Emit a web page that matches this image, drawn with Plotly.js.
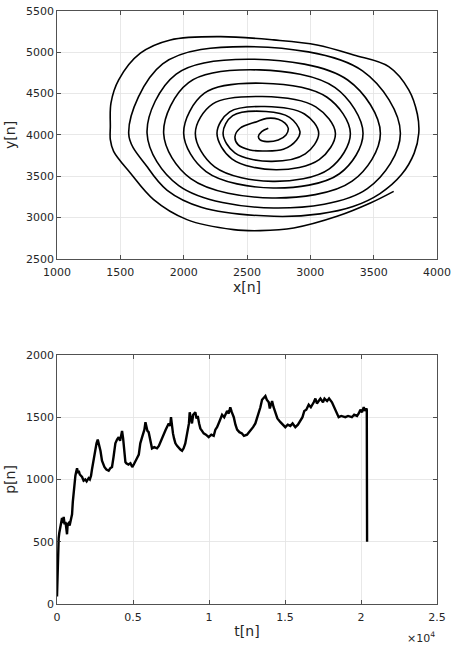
<!DOCTYPE html>
<html>
<head>
<meta charset="utf-8">
<script src="https://cdn.plot.ly/plotly-3.0.1.min.js"></script>
<style>
    html, body { margin: 0; padding: 0; background: #fff; }
    #plot { width: 454px; height: 646px; }
</style>
</head>
<body>
<div id="plot"></div>
<script>
(function () {
    'use strict';

    // spiral path x[n], y[n] (centre outwards)
    var spiralX = [2668, 2616, 2590, 2603, 2656, 2747, 2808, 2826, 2800, 2747, 2656, 2577, 2445, 2405,
        2431, 2524, 2629, 2787, 2892, 2918, 2836, 2650, 2387,
        2311, 2404, 2688, 2960, 3066, 2954, 2640, 2363,
        2263, 2380, 2730, 3070, 3198, 3043, 2620, 2230,
        2092, 2245, 2704, 3150, 3316, 3132, 2620, 2164,
        2000, 2177, 2708, 3230, 3416, 3196, 2600, 2039,
        1842, 2056, 2698, 3330, 3553, 3295, 2560, 1941,
        1711, 1961, 2711, 3450, 3711, 3412, 2500, 1834,
        1566, 1715, 1870, 2139, 2711, 3076, 3337, 3550, 3720, 3820, 3856,
        3845, 3777, 3619, 3342, 3053, 2711, 2290, 1895, 1658, 1487, 1426, 1421,
        1421, 1447, 1579, 1763, 2026, 2395, 2605, 2869, 3211, 3474, 3658];
    var spiralY = [4081, 4040, 3980, 3940, 3919, 3940, 4000, 4081, 4142, 4190, 4200, 4161, 4081, 3980,
        3879, 3818, 3806, 3827, 3940, 4040, 4213, 4284, 4233,
        4020, 3782, 3680, 3770, 4020, 4253, 4344, 4279,
        4020, 3711, 3579, 3700, 4020, 4340, 4465, 4376,
        4020, 3613, 3438, 3590, 4020, 4456, 4626, 4505,
        4020, 3557, 3358, 3530, 4020, 4572, 4787, 4634,
        4020, 3472, 3237, 3440, 4020, 4665, 4916, 4737,
        4020, 3387, 3116, 3350, 4020, 4775, 5069, 4859,
        4020, 3608, 3330, 3126, 3015, 3045, 3133, 3290, 3520, 3780, 4020,
        4250, 4546, 4827, 4968, 5089, 5150, 5190, 5150, 4989, 4666, 4385, 4100,
        3942, 3801, 3539, 3217, 2975, 2854, 2842, 2874, 3015, 3176, 3317];

    // p[n] against t[n]
    var tSeries = [0, 40, 80, 110, 150, 200, 260, 330, 400, 440, 500, 560, 620, 660, 700, 770, 830, 900, 950, 990,
        1040, 1100, 1150, 1210, 1260, 1320, 1380, 1430, 1500, 1560, 1650, 1750, 1860, 1950, 2080, 2160, 2240, 2300,
        2370, 2450, 2520, 2600, 2680, 2740, 2800, 2860, 2960, 3050, 3120, 3250, 3400, 3500, 3620, 3720, 3840, 3950,
        4060, 4150, 4280, 4350, 4430, 4500, 4560, 4700, 4830, 4950, 5050, 5150, 5260, 5380, 5480, 5600, 5750, 5820,
        5880, 5950, 6030, 6150, 6250, 6400, 6580, 6700, 6800, 6900, 7020, 7150, 7350, 7450, 7500, 7560, 7630, 7700,
        7790, 7900, 8010, 8120, 8230, 8330, 8440, 8520, 8600, 8680, 8730, 8800, 8880, 8960, 9100, 9180, 9260, 9350,
        9430, 9540, 9650, 9800, 9980, 10150, 10310, 10420, 10530, 10700, 10860, 11000, 11190, 11300, 11400, 11500,
        11630, 11740, 11850, 12000, 12170, 12300, 12500, 12630, 12770, 12900, 13050, 13150, 13270, 13380, 13490,
        13600, 13710, 13800, 13930, 14000, 14150, 14250, 14370, 14500, 14700, 14850, 15020, 15180, 15350, 15500,
        15680, 15850, 16010, 16150, 16270, 16400, 16560, 16700, 16890, 17000, 17100, 17330, 17500, 17600, 17770,
        17900, 18090, 18200, 18310, 18420, 18530, 18700, 18970, 19150, 19400, 19550, 19740, 19850, 19960, 20070,
        20180, 20260, 20350, 20380, 20400];
    var pSeries = [60, 330, 480, 530, 570, 600, 640, 690, 650, 700, 640, 660, 600, 560, 640, 650, 630, 660, 690, 720,
        820, 910, 960, 1030, 1060, 1090, 1050, 1070, 1040, 1030, 1020, 990, 1000, 985, 1010, 1000, 1030, 1080,
        1130, 1200, 1260, 1290, 1320, 1290, 1250, 1230, 1150, 1110, 1100, 1080, 1070, 1090, 1100, 1180, 1290, 1320,
        1340, 1310, 1390, 1330, 1240, 1140, 1130, 1120, 1130, 1100, 1120, 1140, 1170, 1200, 1290, 1340, 1400, 1460,
        1420, 1390, 1380, 1290, 1250, 1260, 1250, 1270, 1300, 1340, 1370, 1400, 1450, 1430, 1500, 1430, 1370, 1330,
        1290, 1270, 1250, 1240, 1230, 1250, 1290, 1340, 1400, 1450, 1540, 1480, 1450, 1520, 1540, 1490, 1510, 1450,
        1410, 1390, 1370, 1360, 1340, 1360, 1350, 1400, 1420, 1470, 1520, 1500, 1550, 1530, 1580, 1540,
        1500, 1440, 1400, 1380, 1370, 1350, 1360, 1380, 1400, 1420, 1450, 1490, 1530, 1580, 1640,
        1660, 1670, 1640, 1620, 1570, 1630, 1580, 1530, 1490, 1460, 1440, 1420, 1440, 1430, 1450,
        1420, 1440, 1470, 1500, 1550, 1560, 1600, 1580, 1620, 1650, 1610, 1650, 1620, 1650, 1630,
        1650, 1620, 1590, 1550, 1520, 1500, 1510, 1500, 1510, 1500, 1520, 1510, 1530, 1560, 1540,
        1580, 1550, 1570, 1560, 500];

    var xTicks = [1000, 1500, 2000, 2500, 3000, 3500, 4000];
    var yTicks = [2500, 3000, 3500, 4000, 4500, 5000, 5500];
    var tTicks = [0, 5000, 10000, 15000, 20000, 25000];
    var tTickText = ['0', '0.5', '1', '1.5', '2', '2.5'];
    var pTicks = [0, 500, 1000, 1500, 2000];

    var ink = '#262626';
    var font = { family: 'DejaVu Sans, sans-serif', size: 11, color: ink };
    var titleFont = { family: 'DejaVu Sans, sans-serif', size: 14, color: ink };

    function axisStyle(extra) {
        var ax = {
            showline: true,
            mirror: 'ticks',
            linecolor: ink,
            linewidth: 0.8,
            ticks: 'inside',
            ticklen: 4,
            tickwidth: 0.8,
            tickcolor: ink,
            showgrid: true,
            gridcolor: '#e2e2e2',
            gridwidth: 0.8,
            zeroline: false,
            tickfont: font
        };
        for (var k in extra) { ax[k] = extra[k]; }
        return ax;
    }

    var spiral = {
        x: spiralX,
        y: spiralY,
        xaxis: 'x',
        yaxis: 'y',
        mode: 'lines',
        line: { color: '#000', width: 1.6, shape: 'spline', smoothing: 1 },
        hoverinfo: 'skip'
    };

    var power = {
        x: tSeries,
        y: pSeries,
        xaxis: 'x2',
        yaxis: 'y2',
        mode: 'lines',
        line: { color: '#000', width: 2.4 },
        hoverinfo: 'skip'
    };

    var layout = {
        width: 454,
        height: 646,
        margin: { l: 57, r: 17, t: 11, b: 42 },
        paper_bgcolor: '#fff',
        plot_bgcolor: '#fff',
        showlegend: false,
        xaxis: axisStyle({
            domain: [0, 1], anchor: 'y', range: [1000, 4000], tickvals: xTicks,
            ticklabelstandoff: 3,
            title: { text: 'x[n]', font: titleFont, standoff: 4 }
        }),
        yaxis: axisStyle({
            domain: [0.582, 1], anchor: 'x', range: [2500, 5500], tickvals: yTicks,
            title: { text: 'y[n]', font: titleFont, standoff: 6 }
        }),
        xaxis2: axisStyle({
            domain: [0, 1], anchor: 'y2', range: [0, 25000], tickvals: tTicks, ticktext: tTickText,
            ticklabelstandoff: 3,
            title: { text: 't[n]', font: titleFont, standoff: 3 }
        }),
        yaxis2: axisStyle({
            domain: [0, 0.42], anchor: 'x2', range: [0, 2000], tickvals: pTicks,
            title: { text: 'p[n]', font: titleFont, standoff: 6 }
        }),
        annotations: [{
            xref: 'paper', yref: 'paper', x: 1.0, y: -0.056,
            xanchor: 'right', yanchor: 'middle', showarrow: false,
            text: '\u00d710<sup>4</sup>',
            font: { family: 'DejaVu Sans, sans-serif', size: 11, color: ink }
        }]
    };

    Plotly.newPlot('plot', [spiral, power], layout, { staticPlot: true, displayModeBar: false });
})();
</script>
</body>
</html>
